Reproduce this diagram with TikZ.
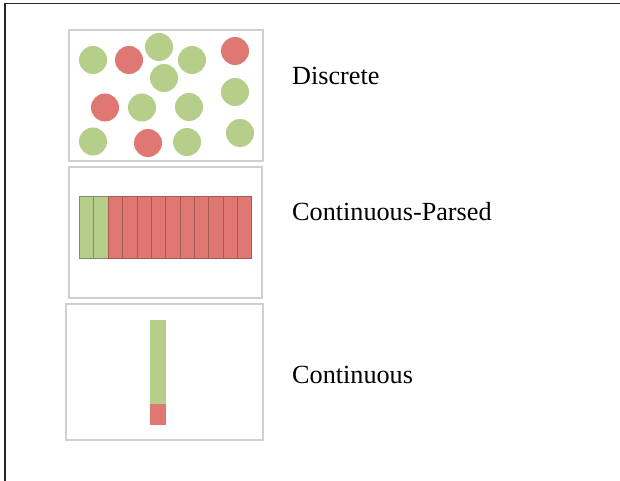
\documentclass[tikz,border=0pt]{standalone}
\usepackage{fontspec}
\setmainfont{Liberation Serif}
\definecolor{gdot}{HTML}{B5CF8A}
\definecolor{rdot}{HTML}{DF7872}
\definecolor{panelgray}{HTML}{D0D0D0}
\begin{document}
\begin{tikzpicture}[x=1pt,y=-1pt,
  panel/.style={draw=panelgray,line width=1.6pt,fill=white},
  gc/.style={circle,fill=gdot,minimum size=28pt,inner sep=0pt},
  rc/.style={circle,fill=rdot,minimum size=28pt,inner sep=0pt},
  seg/.style={line width=0.8pt},
  lbl/.style={anchor=base west,inner sep=0pt,font=\fontsize{26.2}{30}\selectfont}]
\useasboundingbox (0,0) rectangle (620,481);
\fill[white] (0,0) rectangle (620,481);
% outer frame (left and top edges)
\draw[line width=1.5pt,black!85] (5,481) -- (5,3.5) -- (620,3.5);
% panels
\draw[panel] (69,30) rectangle (263,161);
\draw[panel] (69,167) rectangle (262,298);
\draw[panel] (66,304) rectangle (263,440);
% discrete circles
\node[gc] (c1) at (93,60) {};
\node[rc] (c2) at (129,60) {};
\node[gc] (c3) at (159,47) {};
\node[gc] (c4) at (192,60) {};
\node[rc] (c5) at (235,51) {};
\node[gc] (c6) at (164,78) {};
\node[rc] (c7) at (105,107.5) {};
\node[gc] (c8) at (142,107.5) {};
\node[gc] (c9) at (189,107) {};
\node[gc] (c10) at (235,92) {};
\node[gc] (c11) at (93,141.5) {};
\node[rc] (c12) at (148,143) {};
\node[gc] (c13) at (187,142) {};
\node[gc] (c14) at (240,133) {};
% continuous-parsed bar
\foreach \i in {0,1} {
  \fill[gdot] ({79.5+\i*14.35},196.5) rectangle ({79.5+(\i+1)*14.35},258.5);
  \draw[seg,gdot!70!black] ({79.5+\i*14.35},196.5) rectangle ({79.5+(\i+1)*14.35},258.5);
}
\foreach \i in {2,...,11} {
  \fill[rdot] ({79.5+\i*14.35},196.5) rectangle ({79.5+(\i+1)*14.35},258.5);
  \draw[seg,rdot!75!black] ({79.5+\i*14.35},196.5) rectangle ({79.5+(\i+1)*14.35},258.5);
}
% continuous bar
\fill[gdot] (150,320) rectangle (166,403.5);
\fill[rdot] (150,403.5) rectangle (166,425);
% labels
\node[lbl] (l1) at (292,85) {Discrete};
\node[lbl] (l2) at (292,220) {Continuous-Parsed};
\node[lbl] (l3) at (292,383) {Continuous};
\end{tikzpicture}
\end{document}
